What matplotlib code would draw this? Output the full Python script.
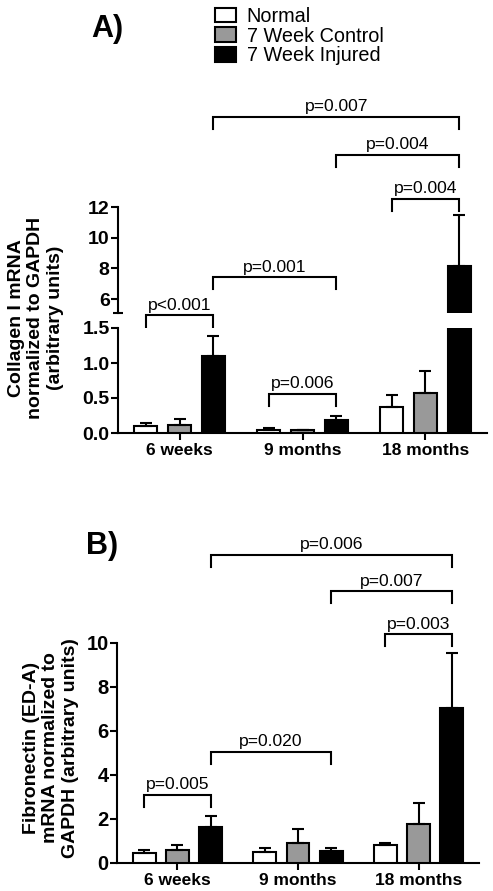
import numpy as np
import matplotlib
matplotlib.use("Agg")
import matplotlib.pyplot as plt
from matplotlib.ticker import FixedLocator

plt.rcParams['font.family'] = ['Liberation Sans', 'DejaVu Sans']

# ---- data ----------------------------------------------------------------
groups = ['6 weeks', '9 months', '18 months']
series = ['Normal', '7 Week Control', '7 Week Injured']
colors = ['white', '#999999', 'black']

# panel A: Collagen I mRNA (mean, SEM)
col_normal = [0.10, 0.05, 0.37]
col_normal_err = [0.05, 0.015, 0.18]
col_control = [0.12, 0.04, 0.57]
col_control_err = [0.08, 0.01, 0.32]
col_injured = [1.10, 0.18, 8.15]
col_injured_err = [0.28, 0.06, 3.35]

# panel B: Fibronectin (ED-A) mRNA (mean, SEM)
fib_normal = [0.47, 0.50, 0.83]
fib_normal_err = [0.13, 0.20, 0.09]
fib_control = [0.60, 0.91, 1.79]
fib_control_err = [0.20, 0.62, 0.94]
fib_injured = [1.63, 0.53, 7.05]
fib_injured_err = [0.50, 0.15, 2.50]

# comparisons: (group a, series a, group b, series b, height, label, axis)
col_pvals = [
    (0, 0, 0, 2, 4.95, 'p<0.001', 'top'),
    (0, 2, 1, 2, 7.43, 'p=0.001', 'top'),
    (1, 0, 1, 2, 0.56, 'p=0.006', 'bot'),
    (2, 0, 2, 2, 12.52, 'p=0.004', 'top'),
    (1, 2, 2, 2, 15.39, 'p=0.004', 'top'),
    (0, 2, 2, 2, 17.87, 'p=0.007', 'top'),
]
fib_pvals = [
    (0, 0, 0, 2, 3.09, 'p=0.005'),
    (0, 2, 1, 2, 5.05, 'p=0.020'),
    (2, 0, 2, 2, 10.4, 'p=0.003'),
    (1, 2, 2, 2, 12.36, 'p=0.007'),
    (0, 2, 2, 2, 14.0, 'p=0.006'),
]

W, H = 493, 891
x = np.arange(len(groups))
offs = [-0.275, 0, 0.275]
bw = 0.19
LW = 1.5


def bars(ax, means, errs):
    handles = []
    for k in range(3):
        yerr = [np.zeros(3), errs[k]]
        b = ax.bar(x + offs[k], means[k], bw, color=colors[k], edgecolor='black',
                   linewidth=LW, yerr=yerr, capsize=4.5,
                   error_kw=dict(elinewidth=LW, capthick=LW, ecolor='black'),
                   label=series[k], zorder=3)
        handles.append(b)
    return handles


def style(ax, ysize, bottom=True):
    for s in ['top', 'right']:
        ax.spines[s].set_visible(False)
    ax.spines['left'].set_linewidth(LW)
    ax.spines['bottom'].set_linewidth(LW)
    ax.tick_params(axis='y', direction='out', length=5, width=LW, labelsize=ysize,
                   pad=1)
    ax.set_xlim(-0.5, 2.5)
    if bottom:
        ax.set_xticks(x)
        ax.set_xticklabels(groups, fontweight='bold', fontsize=12.5)
        ax.tick_params(axis='x', direction='out', length=5, width=LW, pad=2)
    else:
        ax.spines['bottom'].set_visible(False)
        ax.set_xticks([])
    for lab in ax.get_yticklabels():
        lab.set_fontweight('bold')


def bracket(ax, a, b, y, label):
    x1 = a[0] + offs[a[1]]
    x2 = b[0] + offs[b[1]]
    lo, hi = ax.get_ylim()
    leg = 12 * (hi - lo) / ax.bbox.height
    ax.plot([x1, x1, x2, x2], [y - leg, y, y, y - leg], color='black', lw=LW,
            clip_on=False, solid_joinstyle='miter')
    ax.annotate(label, xy=((x1 + x2) / 2, y), xytext=(0, 4),
                textcoords='offset points', ha='center', va='baseline',
                fontsize=12.6, annotation_clip=False)


fig = plt.figure(figsize=(W / 100, H / 100), dpi=100)

# ---- panel A (broken axis) --------------------------------------------------
ax_top = fig.add_axes([118 / W, 1 - 313 / H, 369 / W, 106 / H])
ax_bot = fig.add_axes([118 / W, 1 - 433 / H, 369 / W, 105 / H])
means_a = [col_normal, col_control, col_injured]
errs_a = [col_normal_err, col_control_err, col_injured_err]
handles = bars(ax_top, means_a, errs_a)
bars(ax_bot, means_a, errs_a)
ax_top.set_ylim(5.1, 12)
ax_top.set_yticks([6, 8, 10, 12])
ax_bot.set_ylim(0, 1.5)
ax_bot.set_yticks([0, 0.5, 1.0, 1.5])
ax_bot.set_yticklabels(['0.0', '0.5', '1.0', '1.5'])
style(ax_top, 14, bottom=False)
style(ax_bot, 14)
# small caps marking the break
ax_top.yaxis.set_minor_locator(FixedLocator([5.1]))
ax_bot.yaxis.set_minor_locator(FixedLocator([1.5]))
for ax in (ax_top, ax_bot):
    ax.tick_params(axis='y', which='minor', direction='inout', length=7, width=LW)

for ga, sa, gb, sb, y, lab, where in col_pvals:
    bracket(ax_top if where == 'top' else ax_bot, (ga, sa), (gb, sb), y, lab)

fig.text(36 / W, 1 - 318 / H, 'Collagen I mRNA\nnormalized to GAPDH\n(arbitrary units)',
         rotation=90, ha='center', va='center', multialignment='center',
         fontsize=14, fontweight='bold', linespacing=1.2)
fig.text(107 / W, 1 - 29 / H, 'A)', ha='center', va='center', fontsize=22,
         fontweight='bold')

fig.legend(handles, series, loc='upper left', bbox_to_anchor=(215 / W, 1 - 7 / H),
           frameon=False, fontsize=14.3, handlelength=1.05, handleheight=0.75,
           handletextpad=0.55, labelspacing=0.03, borderaxespad=0, borderpad=0)

# ---- panel B ---------------------------------------------------------------
ax_b = fig.add_axes([117 / W, 1 - 863 / H, 362 / W, 220 / H])
bars(ax_b, [fib_normal, fib_control, fib_injured],
     [fib_normal_err, fib_control_err, fib_injured_err])
ax_b.set_ylim(0, 10)
ax_b.set_yticks([0, 2, 4, 6, 8, 10])
style(ax_b, 14.5)
for ga, sa, gb, sb, y, lab in fib_pvals:
    bracket(ax_b, (ga, sa), (gb, sb), y, lab)

fig.text(51 / W, 1 - 748 / H, 'Fibronectin (ED-A)\nmRNA normalized to\nGAPDH (arbitrary units)',
         rotation=90, ha='center', va='center', multialignment='center',
         fontsize=14, fontweight='bold', linespacing=1.2)
fig.text(102 / W, 1 - 546 / H, 'B)', ha='center', va='center', fontsize=22,
         fontweight='bold')

fig.savefig('out.png', dpi=100)
